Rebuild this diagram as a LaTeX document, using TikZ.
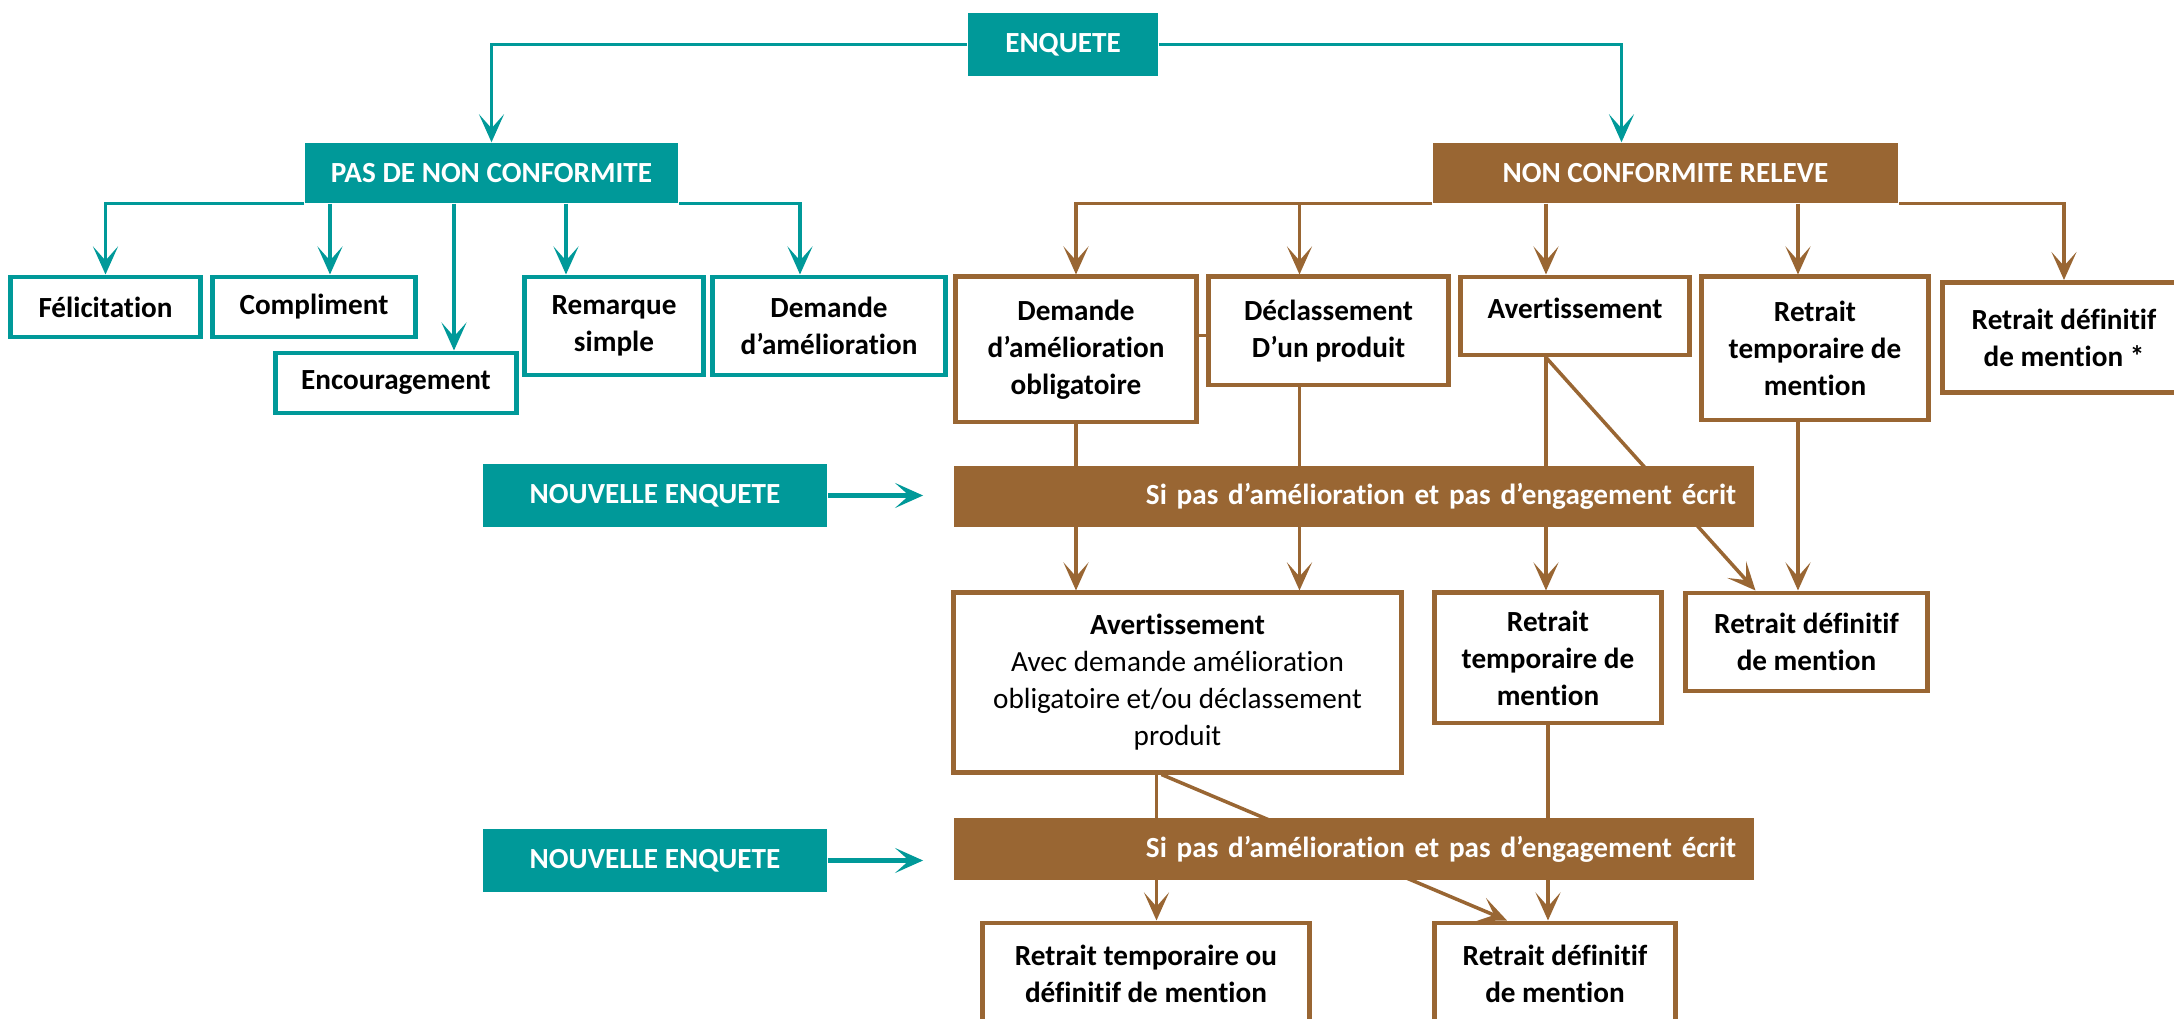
\documentclass[tikz,border=0pt]{standalone}
\usepackage{fontspec}
\setmainfont{Carlito}[Ligatures=NoCommon]
\usetikzlibrary{calc,arrows.meta}
\definecolor{enqTeal}{RGB}{0,153,153}
\definecolor{ncBrown}{RGB}{153,102,51}

\begin{document}
\begin{tikzpicture}[x=0.01cm,y=-0.01cm,
  font=\fontsize{8.3}{10.5}\selectfont\bfseries,
  tealHead/.style={fill=enqTeal,text=white,inner sep=0pt,align=center},
  brownHead/.style={fill=ncBrown,text=white,inner sep=0pt,align=center},
  tealBox/.style={draw=enqTeal,fill=white,line width=1.4pt,inner sep=0pt,align=center},
  brownBox/.style={draw=ncBrown,fill=white,line width=1.4pt,inner sep=0pt,align=center},
  tealArrow/.style={draw=enqTeal,line width=1pt,-{Stealth[length=0.28cm,width=0.25cm,inset=0.14cm]}},
  brownArrow/.style={draw=ncBrown,line width=1pt,-{Stealth[length=0.28cm,width=0.25cm,inset=0.14cm]}},
  brownLine/.style={draw=ncBrown,line width=1pt}]
\useasboundingbox (0,0) rectangle (2174,1019);
\clip (0,0) rectangle (2174,1019);

\node[tealHead,minimum width=1.90cm,minimum height=0.63cm] (enquete) at (1063,44.5) {ENQUETE};
\node[tealHead,minimum width=3.73cm,minimum height=0.60cm] (pasNc) at (491.5,173) {PAS DE NON CONFORMITE};
\node[brownHead,minimum width=4.65cm,minimum height=0.60cm] (ncReleve) at (1665.5,173) {NON CONFORMITE RELEVE};

\node[tealBox,minimum width=1.89cm,minimum height=0.60cm] (felicit) at (105.5,307) {Félicitation};
\node[tealBox,minimum width=2.02cm,minimum height=0.60cm] (compliment) at (314,307) {Compliment};
\node[tealBox,minimum width=2.40cm,minimum height=0.60cm] (encourag) at (396,383) {Encouragement};
\node[tealBox,minimum width=1.78cm,minimum height=0.98cm] (remarque) at (614,326) {Remarque\\simple};
\node[tealBox,minimum width=2.32cm,minimum height=0.98cm] (demAmelio) at (829,326) {Demande\\d’amélioration};

\node[brownBox,minimum width=2.40cm,minimum height=1.45cm] (demOblig) at (1076,349.5) {Demande\\d’amélioration\\obligatoire};
\node[brownBox,minimum width=2.39cm,minimum height=1.08cm] (declass) at (1328.5,331) {Déclassement\\D’un produit};
\node[brownBox,minimum width=2.28cm,minimum height=0.78cm,text depth=0.16cm] (avertis) at (1575,316) {Avertissement};
\node[brownBox,minimum width=2.26cm,minimum height=1.43cm] (retTemp) at (1815,348.5) {Retrait\\temporaire de\\mention};
\node[brownBox,minimum width=2.42cm,minimum height=1.10cm] (retDef) at (2064,337.5) {Retrait définitif\\de mention *};

\node[brownBox,minimum width=4.47cm,minimum height=1.79cm] (avertDem) at (1177.5,682.5) {Avertissement\\{\mdseries Avec demande amélioration}\\{\mdseries obligatoire et/ou déclassement}\\{\mdseries produit}};
\node[brownBox,minimum width=2.26cm,minimum height=1.30cm] (retTemp2) at (1548,658) {Retrait\\temporaire de\\mention};
\node[brownBox,minimum width=2.41cm,minimum height=0.98cm] (retDef2) at (1806.5,642) {Retrait définitif\\de mention};

\node[brownBox,minimum width=3.26cm,minimum height=1.02cm] (retTempDef) at (1146,974) {Retrait temporaire ou\\définitif de mention};
\node[brownBox,minimum width=2.40cm,minimum height=1.02cm] (retDef3) at (1555,974) {Retrait définitif\\de mention};

\node[tealHead,minimum width=3.44cm,minimum height=0.63cm] (nouvEnq1) at (655,495.5) {NOUVELLE ENQUETE};
\node[tealHead,minimum width=3.44cm,minimum height=0.63cm] (nouvEnq2) at (655,860.5) {NOUVELLE ENQUETE};

\draw[tealArrow] (enquete.west) -| (pasNc.north);
\draw[tealArrow] (enquete.east) -| ($(ncReleve.north)+(-44,0)$);

\draw[tealArrow] (pasNc.south west) -| (felicit.north);
\draw[tealArrow] (pasNc.south east) -| ($(demAmelio.north)+(-29,0)$);
\foreach \nd/\dx in {compliment/16,encourag/58,remarque/-48}{
  \path ($(\nd.north)+(\dx,0)$) coordinate (tip);
  \draw[tealArrow] (tip |- pasNc.south) -- (tip);
}

\draw[brownArrow] (ncReleve.south west) -| (demOblig.north);
\draw[brownArrow] (ncReleve.south east) -| (retDef.north);
\foreach \nd/\dx in {declass/-29,avertis/-29,retTemp/-17}{
  \path ($(\nd.north)+(\dx,0)$) coordinate (tip);
  \draw[brownArrow] (tip |- ncReleve.south) -- (tip);
}
\draw[brownLine] ($(demOblig.east)+(0,-14)$) coordinate (dj) -- (dj -| declass.west);

\draw[brownArrow] (demOblig.south) -- (demOblig.south |- avertDem.north);
\path ($(declass.south)+(-29,0)$) coordinate (d1);
\draw[brownArrow] (d1) -- (d1 |- avertDem.north);
\path ($(avertis.south)+(-29,0)$) coordinate (a1);
\draw[brownArrow] (a1) -- (a1 |- retTemp2.north);
\draw[brownArrow] (a1) -- ($(retDef2.north)+(-51,0)$);
\path ($(retTemp.south)+(-17,0)$) coordinate (t1);
\draw[brownArrow] (t1) -- (t1 |- retDef2.north);
\path ($(avertDem.south)+(-21,0)$) coordinate (v1);
\draw[brownArrow] (v1) -- (v1 |- retTempDef.north);
\draw[brownArrow] ($(avertDem.south)+(-16,0)$) -- ($(retDef3.north)+(-48,0)$);
\draw[brownArrow] (retTemp2.south) -- (retTemp2.south |- retDef3.north);

\node[brownHead,minimum width=8.00cm,minimum height=0.61cm,text width=7.64cm,align=right] (siPas1) at (1354,496.5) {Si pas d’amélioration et pas d’engagement écrit};
\node[brownHead,minimum width=8.00cm,minimum height=0.62cm,text width=7.64cm,align=right] (siPas2) at (1354,849) {Si pas d’amélioration et pas d’engagement écrit};

\draw[tealArrow,line width=1.4pt] (nouvEnq1.east) -- ($(nouvEnq1.east -| siPas1.west)+(-30,0)$);
\draw[tealArrow,line width=1.4pt] (nouvEnq2.east) -- ($(nouvEnq2.east -| siPas2.west)+(-30,0)$);
\end{tikzpicture}
\end{document}
